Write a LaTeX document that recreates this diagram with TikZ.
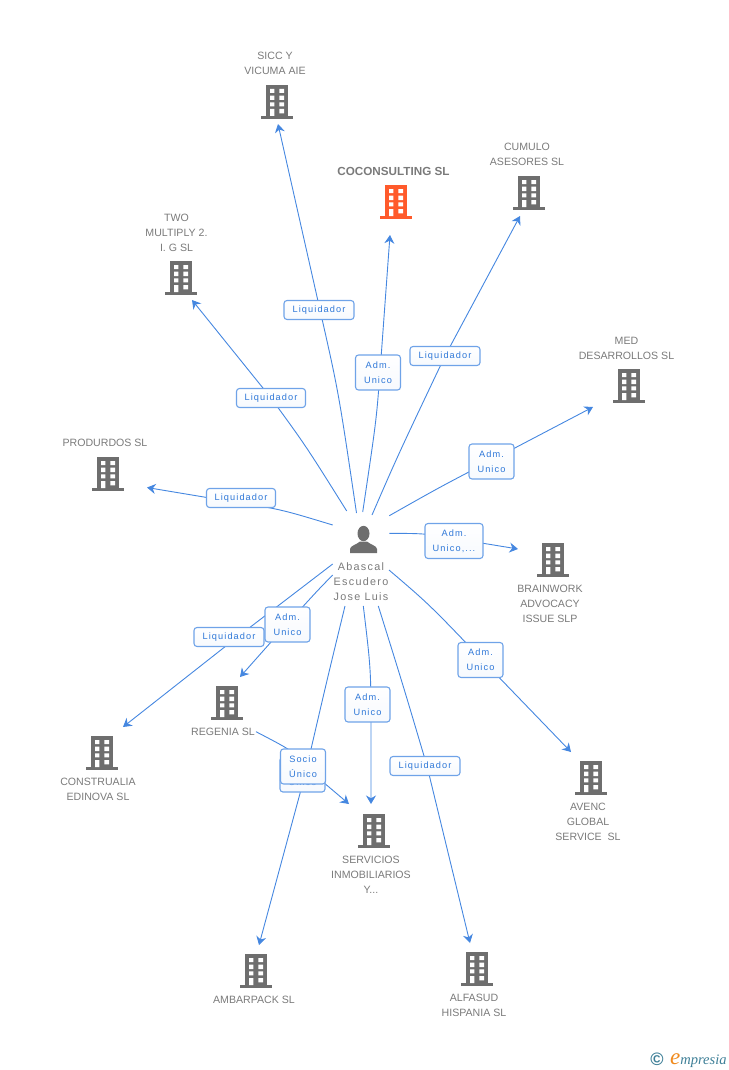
\documentclass[tikz,border=0pt]{standalone}
\usepackage{fontspec}
\setmainfont{Liberation Sans}
\newfontfamily\logofont{Liberation Serif}
\usetikzlibrary{arrows.meta,calc}
\definecolor{edgeblue}{HTML}{4587E0}
\definecolor{boxblue}{HTML}{6FA3E8}
\definecolor{labelblue}{HTML}{2F78D8}
\definecolor{txtgrey}{HTML}{7A7A7A}
\definecolor{bldgrey}{HTML}{6E6E6E}
\definecolor{bldorange}{HTML}{FF5A2B}
\definecolor{logoteal}{HTML}{3E7F97}
\definecolor{logoorange}{HTML}{F08A1D}
\tikzset{
  conn/.style={draw=edgeblue,line width=0.9pt,-{Stealth[length=8.5pt,width=10pt]}},
  bnode/.style={minimum width=32pt,minimum height=34pt,inner sep=0pt},
  txt/.style={align=center,text=txtgrey,inner sep=0pt,font=\fontsize{10.6}{15}\selectfont},
  lab/.style={draw=boxblue,line width=1.1pt,rounded corners=3pt,top color=white,bottom color=white!94!boxblue,
    text=labelblue,align=center,inner sep=0pt,minimum height=19pt,
    font=\fontsize{9.2}{15}\selectfont\addfontfeature{LetterSpace=12}},
  lab2/.style={lab,minimum width=45pt,minimum height=35pt},
  lab1/.style={lab,minimum width=70pt}
}
\newcommand\bld[3]{%
  \node[bnode] (#1) at (#2) {};
  \begin{scope}[shift={(#1.center)}]
    \fill[#3] (-11,-17) rectangle (11,14);
    \fill[#3] (-16,14) rectangle (16,17);
    \fill[white] (-7,-13) rectangle (-2.6,-9) (2.4,-13) rectangle (7,-9)
      (-7,-6.3) rectangle (-2.6,-2) (2.4,-6.3) rectangle (7,-2)
      (-7,0.3) rectangle (-2.6,4.3) (2.4,0.3) rectangle (7,4.3)
      (-7,7) rectangle (-2.6,14) (2.4,7) rectangle (7,11.3);
  \end{scope}}
% start shift from person, control point, point where the curve ends, target node, tip shift
\newcommand\lnk[5]{%
  \draw[conn] ([shift={(#1)}]p.center) .. controls (#2) .. (#3) -- ([shift={(#5)}]#4.center);}
\begin{document}
\begin{tikzpicture}[x=1pt,y=-1pt]
\useasboundingbox (0,0) rectangle (728,1070);
% buildings
\bld{bSICC}{277,102}{bldgrey}
\bld{bCOC}{396,202}{bldorange}
\bld{bCUM}{529,193}{bldgrey}
\bld{bTWO}{181,278}{bldgrey}
\bld{bMED}{629,386}{bldgrey}
\bld{bPRO}{108,474}{bldgrey}
\bld{bBRA}{553,560}{bldgrey}
\bld{bREG}{227,703}{bldgrey}
\bld{bCON}{102,753}{bldgrey}
\bld{bAVE}{591,778}{bldgrey}
\bld{bSER}{374,831}{bldgrey}
\bld{bAMB}{256,971}{bldgrey}
\bld{bALF}{477,969}{bldgrey}
% person
\node[minimum width=28pt,minimum height=30pt,inner sep=0pt] (p) at (364,540) {};
\fill[bldgrey] (363.5,533.5) ellipse (6 and 7.7);
\fill[bldgrey] (350,553) -- (350,549) .. controls (350.5,545.5) and (356,545) .. (360,541.5) -- (367,541.5)
  .. controls (371,545) and (376.5,545.5) .. (377,549) -- (377,553) -- cycle;
% texts
\node[txt] (tSICC) at (275,63.5) {SICC Y\\VICUMA AIE};
\node[txt,font=\fontsize{11.7}{15}\selectfont\bfseries] (tCOC) at (393.5,171) {COCONSULTING SL};
\node[txt] (tCUM) at (527,154.5) {CUMULO\\ASESORES SL};
\node[txt] (tTWO) at (176.5,232.5) {TWO\\MULTIPLY 2.\\I. G SL};
\node[txt] (tMED) at (626.5,348) {MED\\DESARROLLOS SL};
\node[txt] (tPRO) at (105,443) {PRODURDOS SL};
\node[txt] (tBRA) at (550,604) {BRAINWORK\\ADVOCACY\\ISSUE SLP};
\node[txt] (tREG) at (223,732) {REGENIA SL};
\node[txt] (tCON) at (98,789.5) {CONSTRUALIA\\EDINOVA SL};
\node[txt] (tAVE) at (588,822) {AVENC\\GLOBAL\\SERVICE\ \ SL};
\node[txt] (tSER) at (371,875) {SERVICIOS\\INMOBILIARIOS\\Y...};
\node[txt] (tAMB) at (254,1000) {AMBARPACK SL};
\node[txt] (tALF) at (474,1005.5) {ALFASUD\\HISPANIA SL};
\node[txt,font=\fontsize{10.8}{15}\selectfont\addfontfeature{LetterSpace=12}] (tP) at (361,582) {Abascal\\Escudero\\Jose Luis};
% connectors
\lnk{-7.5,-27}{338.6,392}{320,310}{bSICC}{1,22}
\lnk{-1.3,-28}{376.4,420}{380,372}{bCOC}{-6,33}
\lnk{8,-25}{398,455}{445,356}{bCUM}{-9,23}
\lnk{-17.3,-29}{306,446}{271,398}{bTWO}{11,22}
\lnk{25.3,-24.3}{440,487}{491,460.5}{bMED}{-36,21}
\lnk{-31.3,-15}{280,509}{225,500.5}{bPRO}{39,13.5}
\lnk{25.3,-6.7}{425,533.5}{454,538.5}{bBRA}{-35,-11}
\lnk{-31.3,35}{318,590}{287,624}{bREG}{13,-26}
\lnk{-31.3,24}{285,600}{238,636.5}{bCON}{21,-26}
\lnk{25,30}{430,605}{490,668}{bAVE}{-20,-26}
\lnk{-0.7,66}{371,670}{371,735}{bSER}{-3,-27}
\lnk{-19,66}{327,680}{305,775}{bAMB}{3,-26}
\lnk{14.3,66}{403,685}{427,766}{bALF}{-7,-26}
\draw[conn] ([shift={(29,28.7)}]bREG.center) .. controls (295,752) .. (310,771) -- ([shift={(-25,-27)}]bSER.center);
% labels
\node[lab1] (l1) at (319,310) {Liquidador};
\node[lab2] (l2) at (378,372.5) {Adm.\\Unico};
\node[lab1] (l3) at (445,356) {Liquidador};
\node[lab1,minimum width=69pt] (l4) at (271,398) {Liquidador};
\node[lab2] (l5) at (491.5,461.5) {Adm.\\Unico};
\node[lab1,minimum width=69pt] (l6) at (241,498) {Liquidador};
\node[lab2,minimum width=58pt] (l7) at (454,541) {Adm.\\Unico,...};
\node[lab1] (l8) at (229,637) {Liquidador};
\node[lab2] (l9) at (287.5,624.5) {Adm.\\Unico};
\node[lab2] (l10) at (480.5,660) {Adm.\\Unico};
\node[lab2] (l11) at (367.5,704.5) {Adm.\\Unico};
\node[lab1] (l12) at (425,766) {Liquidador};
\node[lab2] (l13) at (302.5,774.5) {Socio\\Único};
\node[lab2] (l14) at (303,766.5) {Socio\\Único};
% logo
\node[inner sep=0pt,text=logoteal,font=\fontsize{18}{18}\selectfont\bfseries] (lc) at (657,1059) {©};
\node[anchor=base west,inner sep=0pt,font=\logofont\itshape\fontsize{14.5}{14.5}\selectfont] (lt) at (670,1064)
  {\textcolor{logoorange}{\fontsize{23}{23}\selectfont e}\textcolor{logoteal}{mpresia}};
\end{tikzpicture}
\end{document}
